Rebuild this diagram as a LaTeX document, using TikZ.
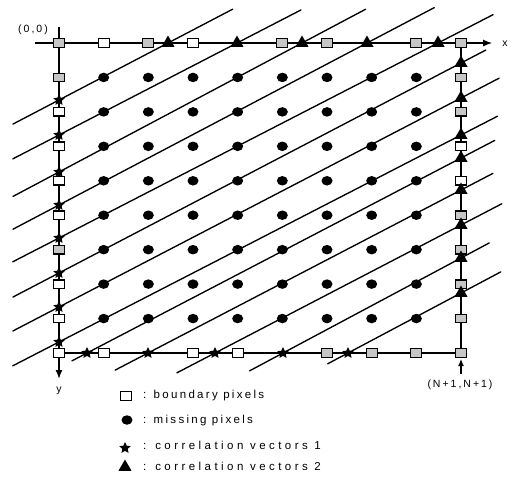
\documentclass[tikz,border=0pt]{standalone}
\usepackage{fontspec}
\setmainfont{Liberation Sans}
\newfontfamily\labfont[LetterSpace=19]{Liberation Sans}
\newfontfamily\legfont[LetterSpace=20]{Liberation Sans}
\newfontfamily\legfontw[LetterSpace=30]{Liberation Sans}
\usetikzlibrary{shapes.geometric,arrows.meta}
\tikzset{
  dline/.style={line width=1.35pt, line cap=round},
  frameline/.style={line width=1.4pt},
  axisline/.style={line width=1.1pt},
  bpw/.style={draw, line width=1.3pt, fill=white, minimum width=11pt, minimum height=8.5pt, inner sep=0pt},
  bpg/.style={bpw, fill=gray!45},
  mpx/.style={ellipse, fill=black, minimum width=11pt, minimum height=9.5pt, inner sep=0pt},
  cvone/.style={star, star points=5, star point ratio=2.1, fill=black, minimum size=12pt, inner sep=0pt},
  cvtwo/.style={regular polygon, regular polygon sides=3, fill=black, minimum size=15pt, inner sep=0pt},
  lab/.style={font=\labfont\fontsize{10.5}{12}\selectfont, inner sep=0pt},
  leg/.style={font=\legfont\fontsize{11.5}{13}\selectfont, anchor=base west, inner sep=0pt},
  legw/.style={font=\legfontw\fontsize{11.5}{13}\selectfont, anchor=base west, inner sep=0pt},
}
\begin{document}
\begin{tikzpicture}[x=1pt,y=-1pt]
\fill[white] (0,0) rectangle (511,477);
\useasboundingbox (0,0) rectangle (511,477);

% crossing points of the diagonal lines
\foreach \i/\y in {1/100,2/135,3/172,4/205,5/238,6/273,7/307,8/342}
  \coordinate (L\i) at (59,\y);
\foreach \i/\x in {1/168,2/237,3/302,4/367,5/438}
  \coordinate (T\i) at (\x,43);
\foreach \i/\y in {1/63,2/98,3/135,4/158,5/190,6/225,7/258,8/293}
  \coordinate (R\i) at (461,\y);
\foreach \i/\x in {1/87,2/148,3/215,4/283,5/348}
  \coordinate (B\i) at (\x,353);

% diagonal lines
\draw[dline, shorten <=-52pt, shorten >=-73pt] (L1) -- (T1);
\draw[dline, shorten <=-52pt, shorten >=-72pt] (L2) -- (T2);
\draw[dline, shorten <=-52pt, shorten >=-72pt] (L3) -- (T3);
\draw[dline, shorten <=-52pt, shorten >=-76pt] (L4) -- (T4);
\draw[dline, shorten <=-52pt, shorten >=-62pt] (L5) -- (T5);
\draw[dline, shorten <=-52pt, shorten >=-28pt] (L6) -- (R1);
\draw[dline, shorten <=-52pt, shorten >=-43pt] (L7) -- (R2);
\draw[dline, shorten <=-52pt, shorten >=-41pt] (L8) -- (R3);
\draw[dline, shorten <=-17pt, shorten >=-38pt] (B1) -- (R4);
\draw[dline, shorten <=-37pt, shorten >=-36pt] (B2) -- (R5);
\draw[dline, shorten <=-43pt, shorten >=-46pt] (B3) -- (R6);
\draw[dline, shorten <=-38pt, shorten >=-32pt] (B4) -- (R7);
\draw[dline, shorten <=-23pt, shorten >=-45pt] (B5) -- (R8);

% axes and frame
\coordinate (axs) at (35,43);
\coordinate (axe) at (492,43);
\coordinate (ays) at (59,27);
\coordinate (aye) at (59,379);
\coordinate (ctr) at (461,43);
\coordinate (cbr) at (461,353);
\coordinate (cbl) at (59,353);
\draw[axisline, -{Latex[length=9pt,width=7pt]}] (axs) -- (axe);
\draw[frameline, -{Latex[length=9pt,width=7pt]}] (ays) -- (aye);
\draw[frameline] (ctr) -- (cbr);
\draw[axisline] (cbl) -- (cbr);
\coordinate (nab) at (461,374);
\coordinate (nat) at (461,359);
\draw[axisline, -{Latex[length=7pt,width=6pt]}] (nab) -- (nat);

% missing pixels
\foreach \c in {1,...,8}
  \foreach \r in {1,...,8}
    \node[mpx] (m\c-\r) at ({59+44.667*\c},{43+34.444*\r}) {};

% boundary pixels
\foreach \c/\s in {0/bpg,1/bpw,2/bpg,3/bpw,5/bpg,6/bpg,8/bpg,9/bpg}
  \node[\s] (bt\c) at ({59+44.667*\c},43) {};
\foreach \r/\s in {1/bpg,2/bpw,3/bpw,4/bpw,5/bpw,6/bpg,7/bpw,8/bpw,9/bpw}
  \node[\s] (bl\r) at (59,{43+34.444*\r}) {};
\foreach \r/\s in {1/bpg,2/bpg,3/bpw,4/bpw,5/bpg,6/bpg,7/bpg,8/bpg,9/bpg}
  \node[\s] (br\r) at (461,{43+34.444*\r}) {};
\foreach \c/\s in {1/bpw,3/bpw,4/bpw,6/bpg,7/bpg,8/bpg}
  \node[\s] (bb\c) at ({59+44.667*\c},353) {};

% correlation vectors
\foreach \i in {1,...,8} \node[cvone] (sL\i) at (L\i) {};
\foreach \i in {1,...,5} \node[cvone] (sB\i) at (B\i) {};
\foreach \i in {1,...,5} \node[cvtwo] (tT\i) at (T\i) {};
\foreach \i in {1,...,8} \node[cvtwo] (tR\i) at (R\i) {};

% labels
\node[lab] (org) at (33,30) {(0,0)};
\node[lab] (xlab) at (505,44) {x};
\node[lab] (ylab) at (59,391) {y};
\node[lab] (nlab) at (460,385) {(N+1,N+1)};

% legend
\node[bpw] (lg1) at (126,396) {};
\node[mpx] (lg2) at (127,420) {};
\node[cvone] (lg3) at (125,448) {};
\node[cvtwo] (lg4) at (125,467) {};
\node[leg] (lt1) at (143,398) {: boundary pixels};
\node[leg] (lt2) at (143,423) {: missing pixels};
\node[legw] (lt3) at (143,449) {: correlation vectors 1};
\node[legw] (lt4) at (143,470) {: correlation vectors 2};
\end{tikzpicture}
\end{document}
